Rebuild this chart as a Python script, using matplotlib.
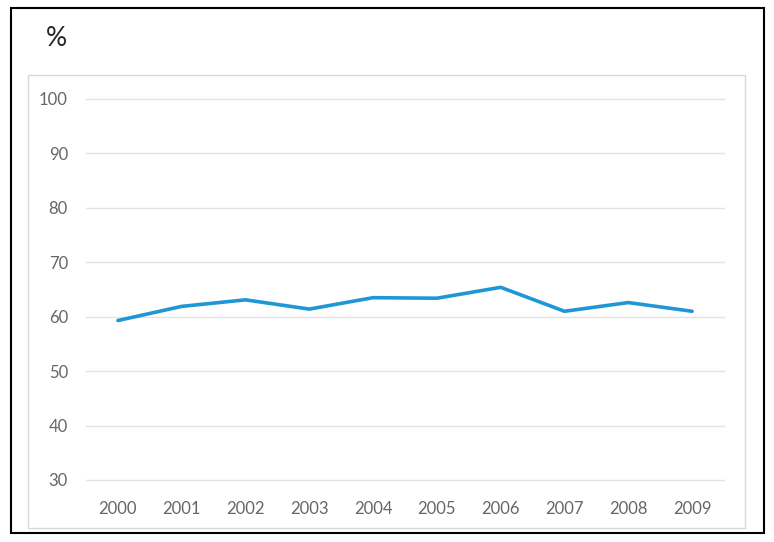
import matplotlib.pyplot as plt
from matplotlib.patches import Rectangle

# data
years = ["2000", "2001", "2002", "2003", "2004", "2005", "2006", "2007", "2008", "2009"]
values = [59.3, 61.9, 63.1, 61.4, 63.5, 63.4, 65.4, 61.0, 62.6, 61.0]
yticks = [30, 40, 50, 60, 70, 80, 90, 100]

W, H = 774, 542
fig = plt.figure(figsize=(W / 100, H / 100), dpi=100)
plt.rcParams['font.family'] = ['Lato', 'DejaVu Sans']

# outer black frame and inner light grey chart box
fig.patches.append(Rectangle((11 / W, 1 - 533 / H), 753 / W, 525 / H, transform=fig.transFigure,
                             fill=False, edgecolor='black', linewidth=1.5))
fig.patches.append(Rectangle((28 / W, 1 - 528 / H), 717 / W, 453 / H, transform=fig.transFigure,
                             fill=False, edgecolor='#d9d9d9', linewidth=1))

ax = fig.add_axes([86 / W, 1 - 480 / H, (724 - 86) / W, (480 - 99) / H])
x = list(range(len(years)))
ax.plot(x, values, color='#1f97d4', linewidth=2.6, solid_capstyle='round', solid_joinstyle='round')

ax.set_xlim(-0.5, len(years) - 0.5)
ax.set_ylim(30, 100)
ax.set_yticks(yticks)
ax.set_xticks(x)
ax.set_xticklabels(years)
ax.grid(axis='y', color='#e3e3e3', linewidth=1)
for g in ax.get_ygridlines():
    g.set_clip_on(False)
ax.set_axisbelow(True)
for s in ax.spines.values():
    s.set_visible(False)
ax.tick_params(length=0, labelsize=12, labelcolor='#666666')
ax.tick_params(axis='x', pad=15)
ax.tick_params(axis='y', pad=13)

fig.text(46 / W, 1 - 39 / H, "%", fontsize=19, color='#262626', va='center', ha='left')

plt.savefig("out.png", dpi=100)
